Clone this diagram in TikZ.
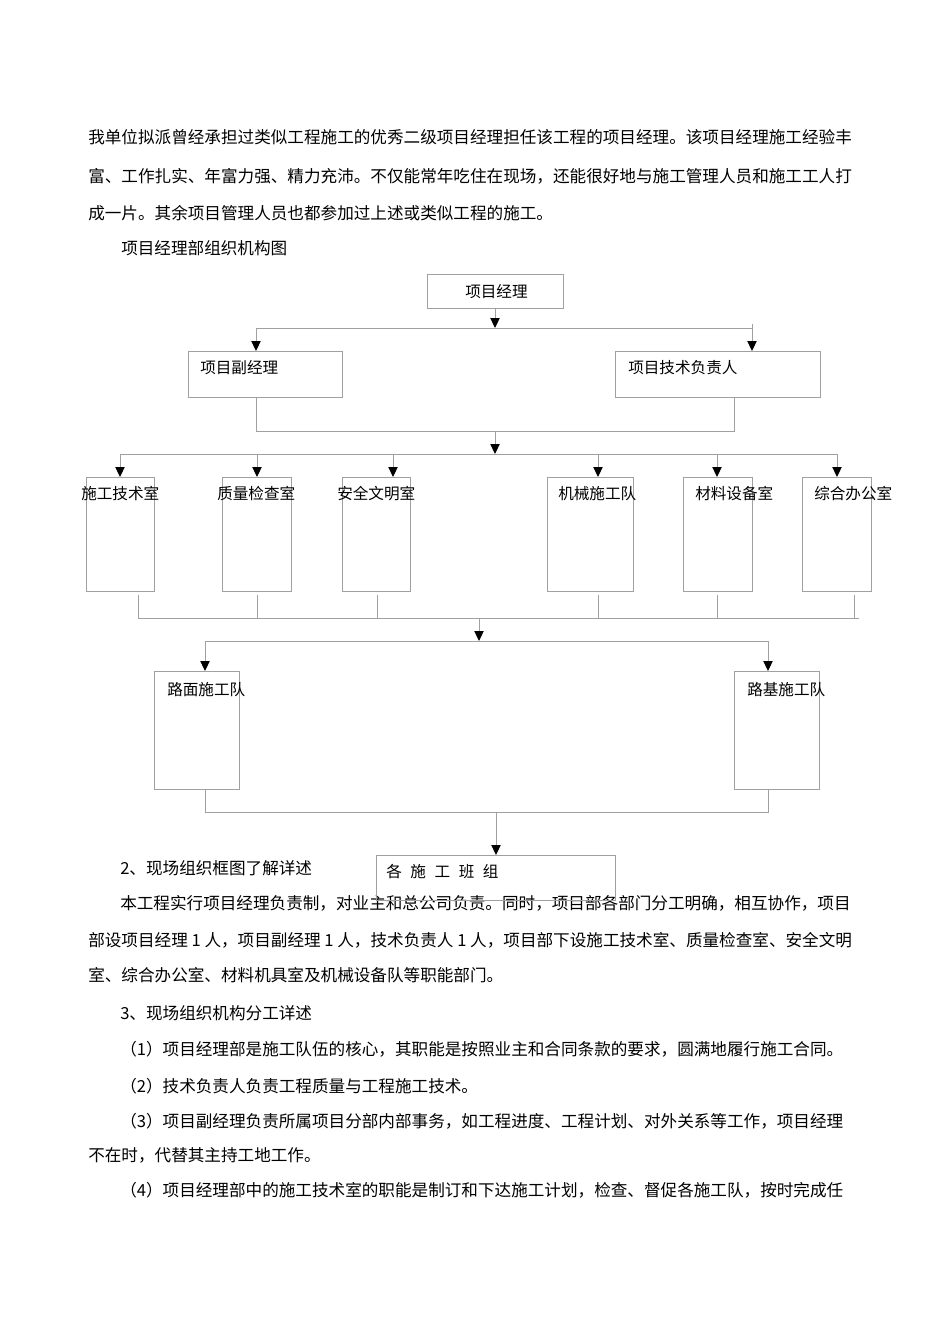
\documentclass[tikz,border=0pt]{standalone}
\usepackage{fontspec}
\setmainfont{Liberation Serif}
\newfontfamily\cjk{Noto Sans CJK SC}
\usetikzlibrary{arrows.meta}
\definecolor{lc}{RGB}{160,160,160}
\newcommand\boxnode[5]{\node[box, minimum width={(#4-#2)*0.75pt}, minimum height={(#5-#3)*0.75pt}] (#1) at ({(#2+#4)/2},{(#3+#5)/2}) {};}
\begin{document}
\begin{tikzpicture}[x=0.75pt,y=-0.75pt,
  box/.style={draw=lc, line width=0.75pt, inner sep=0pt, outer sep=0pt},
  ln/.style={draw=lc, line width=0.75pt},
  arr/.style={ln, -{Triangle[length=7.5pt,width=7pt,color=black]}},
  txt/.style={anchor=base west, inner sep=0pt, font=\cjk\fontsize{12.45pt}{12.45pt}\selectfont},
  lab/.style={anchor=base west, inner sep=0pt, font=\cjk\fontsize{11.7pt}{11.7pt}\selectfont}]
\useasboundingbox (0,0) rectangle (950,1344);
\fill[white] (0,0) rectangle (950,1344);

% ---------- body text ----------
\node[txt] (t1) at (88,143.3) {我单位拟派曾经承担过类似工程施工的优秀二级项目经理担任该工程的项目经理。该项目经理施工经验丰};
\node[txt] (t2) at (88,182.3) {富、工作扎实、年富力强、精力充沛。不仅能常年吃住在现场，还能很好地与施工管理人员和施工工人打};
\node[txt] (t3) at (88,219.3) {成一片。其余项目管理人员也都参加过上述或类似工程的施工。};
\node[txt] (t4) at (121,254.3) {项目经理部组织机构图};
\node[txt] (t5) at (120,874.3) {2、现场组织框图了解详述};
\node[txt] (t6) at (120,909.3) {本工程实行项目经理负责制，对业主和总公司负责。同时，项目部各部门分工明确，相互协作，项目};
\node[txt] (t7) at (88,946.3) {部设项目经理 1 人，项目副经理 1 人，技术负责人 1 人，项目部下设施工技术室、质量检查室、安全文明};
\node[txt] (t8) at (88,981.3) {室、综合办公室、材料机具室及机械设备队等职能部门。};
\node[txt] (t9) at (120,1019.3) {3、现场组织机构分工详述};
\node[txt] (t10) at (120,1055.3) {（1）项目经理部是施工队伍的核心，其职能是按照业主和合同条款的要求，圆满地履行施工合同。};
\node[txt] (t11) at (120,1092.3) {（2）技术负责人负责工程质量与工程施工技术。};
\node[txt] (t12) at (120,1127.3) {（3）项目副经理负责所属项目分部内部事务，如工程进度、工程计划、对外关系等工作，项目经理};
\node[txt] (t13) at (88,1161.3) {不在时，代替其主持工地工作。};
\node[txt] (t14) at (120,1196.3) {（4）项目经理部中的施工技术室的职能是制订和下达施工计划，检查、督促各施工队，按时完成任};

% ---------- boxes ----------
\boxnode{pm}{427}{275}{563}{309}
\boxnode{fu}{188}{351}{342}{397}
\boxnode{js}{615}{351}{820}{397}
\boxnode{d1}{86}{477}{154}{591}
\boxnode{d2}{222}{477}{291}{591}
\boxnode{d3}{342}{477}{410}{591}
\boxnode{d4}{547}{477}{633}{591}
\boxnode{d5}{683}{477}{752}{591}
\boxnode{d6}{802}{477}{871}{591}
\boxnode{lm}{154}{671}{239}{789}
\boxnode{lj}{734}{671}{819}{789}
\boxnode{bz}{376}{855}{615}{900}

% ---------- labels ----------
\node[lab] (lpm) at (465,298) {项目经理};
\node[lab] (lfu) at (200,373) {项目副经理};
\node[lab] (ljs) at (628,373) {项目技术负责人};
\node[lab] (ld1) at (81,499) {施工技术室};
\node[lab] (ld2) at (217,499) {质量检查室};
\node[lab] (ld3) at (337,499) {安全文明室};
\node[lab] (ld4) at (558,499) {机械施工队};
\node[lab] (ld5) at (695,499) {材料设备室};
\node[lab] (ld6) at (814,499) {综合办公室};
\node[lab] (llm) at (167,695) {路面施工队};
\node[lab] (llj) at (747,695) {路基施工队};
\node[lab] (lbz) at (386,877) {各\hskip0.55em 施\hskip0.55em 工\hskip0.55em 班\hskip0.55em 组};

% ---------- connectors ----------
% level 1
\coordinate (a0) at (495,328);
\coordinate (aL) at (256,328);
\coordinate (aR) at (752,328);
\coordinate (aRt) at (752,324);
\draw[arr] (pm.south) -- (a0);
\draw[ln] (aL) -- (aR);
\draw[arr] (aL) -- (aL |- fu.north);
\draw[arr] (aRt) -- (aRt |- js.north);
% merge of level 2
\coordinate (mL) at (256,431);
\coordinate (mR) at (734,431);
\coordinate (m0) at (495,431);
\coordinate (b0) at (495,454);
\draw[ln] (mL |- fu.south) -- (mL) -- (mR) -- (mR |- js.south);
\draw[arr] (m0) -- (b0);
% departments bar
\coordinate (bL) at (120,454);
\coordinate (bR) at (837,454);
\draw[ln] (bL) -- (bR);
\foreach \x/\n in {120/d1,257/d2,393/d3,598/d4,717/d5,837/d6}{
  \coordinate (t\n) at (\x,454);
  \draw[arr] (t\n) -- (t\n |- \n.north);
}
% departments merge
\coordinate (cL) at (138,618);
\coordinate (cR) at (859,618);
\draw[ln] (cL) -- (cR);
\foreach \x/\n in {138/d1,257/d2,377/d3,598/d4,717/d5,854/d6}{
  \coordinate (u\n) at (\x,618);
  \coordinate (v\n) at (\x,595);
  \draw[ln] (v\n) -- (u\n);
}
\coordinate (c0) at (479,618);
\coordinate (e0) at (479,641);
\draw[arr] (c0) -- (e0);
% teams bar
\coordinate (eL) at (205,641);
\coordinate (eR) at (768,641);
\draw[ln] (eL) -- (eR);
\draw[arr] (eL) -- (eL |- lm.north);
\draw[arr] (eR) -- (eR |- lj.north);
% teams merge
\coordinate (fL) at (205,812);
\coordinate (fR) at (768,812);
\coordinate (f0) at (496,812);
\draw[ln] (fL |- lm.south) -- (fL) -- (fR) -- (fR |- lj.south);
\draw[arr] (f0) -- (f0 |- bz.north);
\end{tikzpicture}
\end{document}
